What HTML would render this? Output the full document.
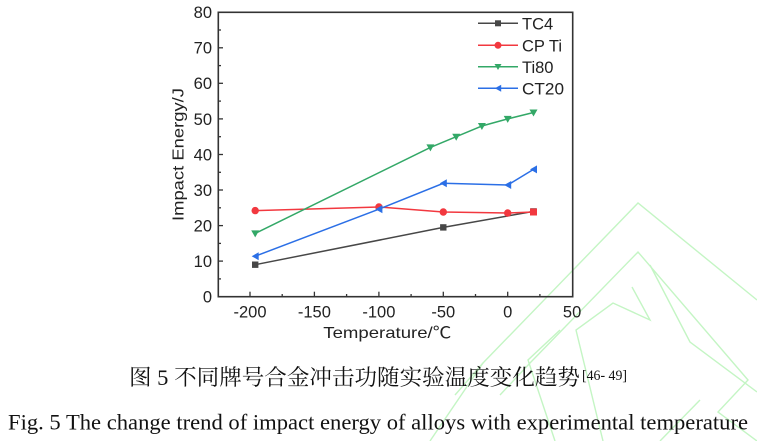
<!DOCTYPE html>
<html><head><meta charset="utf-8"><style>
html,body{margin:0;padding:0;background:#fff;}
svg{display:block;}
</style></head><body>
<svg width="757" height="441" viewBox="0 0 757 441" xmlns="http://www.w3.org/2000/svg">
<!-- watermark -->
<g fill="none" stroke="#c4f5c4" stroke-width="1.4">
<polyline points="455,395 483,363 638,203 757,300"/>
<polyline points="500,395 530,363 638,252 748,380 718,412 757,441"/>
<polyline points="650,265 690,342 757,392"/>
<polyline points="632,287 650,320 613,303 576,330 603,441"/>
<polyline points="560,330 528,360 555,441"/>
<polyline points="430,441 483,363"/>
<polyline points="660,441 700,400"/>
</g>
<!-- frame -->
<rect x="218.3" y="12.3" width="354.4" height="284.4" fill="none" stroke="#333" stroke-width="1.6"/>
<g stroke="#333" stroke-width="1.3">
<!-- x major ticks -->
<line x1="250" y1="296.7" x2="250" y2="291.7"/>
<line x1="314.4" y1="296.7" x2="314.4" y2="291.7"/>
<line x1="378.9" y1="296.7" x2="378.9" y2="291.7"/>
<line x1="443.3" y1="296.7" x2="443.3" y2="291.7"/>
<line x1="507.7" y1="296.7" x2="507.7" y2="291.7"/>
<!-- x minor -->
<line x1="282.2" y1="296.7" x2="282.2" y2="294"/>
<line x1="346.6" y1="296.7" x2="346.6" y2="294"/>
<line x1="411.1" y1="296.7" x2="411.1" y2="294"/>
<line x1="475.5" y1="296.7" x2="475.5" y2="294"/>
<line x1="539.9" y1="296.7" x2="539.9" y2="294"/>
<!-- y major -->
<line x1="218.3" y1="261.1" x2="223" y2="261.1"/>
<line x1="218.3" y1="225.6" x2="223" y2="225.6"/>
<line x1="218.3" y1="190.0" x2="223" y2="190.0"/>
<line x1="218.3" y1="154.5" x2="223" y2="154.5"/>
<line x1="218.3" y1="118.9" x2="223" y2="118.9"/>
<line x1="218.3" y1="83.3" x2="223" y2="83.3"/>
<line x1="218.3" y1="47.8" x2="223" y2="47.8"/>
<!-- y minor -->
<line x1="218.3" y1="278.9" x2="221" y2="278.9"/>
<line x1="218.3" y1="243.4" x2="221" y2="243.4"/>
<line x1="218.3" y1="207.8" x2="221" y2="207.8"/>
<line x1="218.3" y1="172.3" x2="221" y2="172.3"/>
<line x1="218.3" y1="136.7" x2="221" y2="136.7"/>
<line x1="218.3" y1="101.1" x2="221" y2="101.1"/>
<line x1="218.3" y1="65.6" x2="221" y2="65.6"/>
<line x1="218.3" y1="30.0" x2="221" y2="30.0"/>
</g>
<!-- tick labels -->
<g font-family="'Liberation Sans', sans-serif" font-size="16.5" fill="#222" text-anchor="end">
<text x="212" y="302.6">0</text>
<text x="212" y="267.0">10</text>
<text x="212" y="231.5">20</text>
<text x="212" y="195.9">30</text>
<text x="212" y="160.4">40</text>
<text x="212" y="124.8">50</text>
<text x="212" y="89.2">60</text>
<text x="212" y="53.7">70</text>
<text x="212" y="18.1">80</text>
</g>
<g font-family="'Liberation Sans', sans-serif" font-size="16.5" fill="#222" text-anchor="middle">
<text x="250" y="317.5">-200</text>
<text x="314.4" y="317.5">-150</text>
<text x="378.9" y="317.5">-100</text>
<text x="443.3" y="317.5">-50</text>
<text x="507.7" y="317.5">0</text>
<text x="572.1" y="317.5">50</text>
</g>
<text x="323.3" y="338" font-family="'Liberation Sans','Noto Sans CJK SC', sans-serif" font-size="16" fill="#222" textLength="128" lengthAdjust="spacingAndGlyphs">Temperature/℃</text>
<text transform="translate(183.5,154.5) rotate(-90)" text-anchor="middle" font-family="'Liberation Sans', sans-serif" font-size="16" fill="#222" textLength="133" lengthAdjust="spacingAndGlyphs">Impact Energy/J</text>
<!-- series -->
<g fill="none" stroke-width="1.5">
<polyline stroke="#474747" points="255.2,264.7 443.3,227.4 533.5,211.4"/>
<polyline stroke="#f2383f" points="255.2,210.6 378.9,207.0 443.3,212.0 507.7,213.0 533.5,212.0"/>
<polyline stroke="#33a867" points="255.2,233.4 430.4,147.4 456.2,136.7 481.9,126.0 507.7,118.9 533.5,112.5"/>
<polyline stroke="#2b6fe6" points="255.2,256.2 378.9,209.2 443.3,183.3 507.7,185.0 533.5,169.4"/>
</g>
<!-- markers TC4 squares -->
<g fill="#474747">
<rect x="252" y="261.5" width="6.4" height="6.4"/>
<rect x="440.1" y="224.2" width="6.4" height="6.4"/>
<rect x="530.3" y="208.2" width="6.4" height="6.4"/>
</g>
<g fill="#f2383f">
<circle cx="255.2" cy="210.6" r="3.7"/>
<circle cx="378.9" cy="207.0" r="3.7"/>
<circle cx="443.3" cy="212.0" r="3.7"/>
<circle cx="507.7" cy="213.0" r="3.7"/>
<rect x="530" y="208.5" width="7" height="7"/>
</g>
<g fill="#33a867">
<polygon points="251.2,230.4 259.2,230.4 255.2,237.4"/>
<polygon points="426.4,144.4 434.4,144.4 430.4,151.4"/>
<polygon points="452.2,133.7 460.2,133.7 456.2,140.7"/>
<polygon points="477.9,123.0 485.9,123.0 481.9,130.0"/>
<polygon points="503.7,115.9 511.7,115.9 507.7,122.9"/>
<polygon points="529.5,109.5 537.5,109.5 533.5,116.5"/>
</g>
<g fill="#2b6fe6">
<polygon points="251.7,256.2 258.7,252.2 258.7,260.2"/>
<polygon points="375.4,209.2 382.4,205.2 382.4,213.2"/>
<polygon points="439.8,183.3 446.8,179.3 446.8,187.3"/>
<polygon points="504.2,185.0 511.2,181.0 511.2,189.0"/>
<polygon points="530.0,169.4 537.0,165.4 537.0,173.4"/>
</g>
<!-- legend -->
<g stroke-width="1.5">
<line x1="478" y1="23.3" x2="518" y2="23.3" stroke="#474747"/>
<line x1="478" y1="45.3" x2="518" y2="45.3" stroke="#f2383f"/>
<line x1="478" y1="66.8" x2="518" y2="66.8" stroke="#33a867"/>
<line x1="478" y1="88.3" x2="518" y2="88.3" stroke="#2b6fe6"/>
</g>
<rect x="495" y="20.3" width="6" height="6" fill="#474747"/>
<circle cx="498" cy="45.3" r="3.5" fill="#f2383f"/>
<polygon points="494.5,64 501.5,64 498,70" fill="#33a867"/>
<polygon points="494.8,88.3 501.2,84.8 501.2,91.8" fill="#2b6fe6"/>
<g font-family="'Liberation Sans', sans-serif" font-size="16.5" fill="#222">
<text x="522" y="29.3">TC4</text>
<text x="522" y="51.3">CP Ti</text>
<text x="522" y="72.8">Ti80</text>
<text x="522" y="94.3" textLength="42" lengthAdjust="spacingAndGlyphs">CT20</text>
</g>
<!-- captions -->
<text x="129" y="385" font-family="'Liberation Serif','Noto Serif CJK SC', serif" font-size="22" fill="#111" textLength="451" lengthAdjust="spacingAndGlyphs">图 5 不同牌号合金冲击功随实验温度变化趋势</text>
<text x="582" y="380" font-family="'Liberation Serif', serif" font-size="14.5" fill="#111" textLength="45" lengthAdjust="spacingAndGlyphs">[46- 49]</text>
<text x="8" y="429.5" font-family="'Liberation Serif', serif" font-size="22" fill="#111" textLength="740" lengthAdjust="spacingAndGlyphs">Fig. 5 The change trend of impact energy of alloys with experimental temperature</text>
</svg>
</body></html>
